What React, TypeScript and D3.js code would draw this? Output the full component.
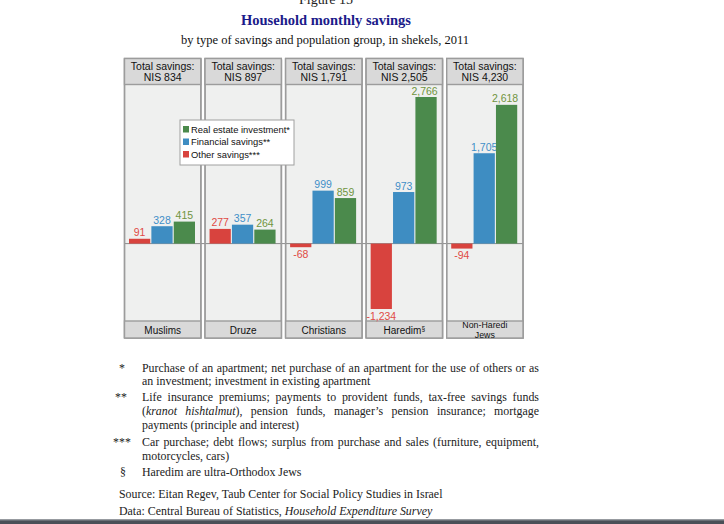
import { useEffect, useRef } from 'react';
import * as d3 from 'd3';

const groups = ['Muslims', 'Druze', 'Christians', 'Haredim', 'Non-Haredi Jews'];
const totals = ['834', '897', '1,791', '2,505', '4,230'];
const series = ['other', 'financial', 'realEstate'];
const otherSavings = [91, 277, -68, -1234, -94];
const financialSavings = [328, 357, 999, 973, 1705];
const realEstate = [415, 264, 859, 2766, 2618];

const legendItems = [
  { key: 'realEstate', label: 'Real estate investment*' },
  { key: 'financial', label: 'Financial savings**' },
  { key: 'other', label: 'Other savings***' },
];

const colors: Record<string, string> = {
  other: '#d8433e',
  financial: '#3e8dc2',
  realEstate: '#4b8a4c',
};
const labelColors: Record<string, string> = {
  other: '#e04a44',
  financial: '#3f8fc8',
  realEstate: '#6f9440',
};

const sans = '"Liberation Sans", Arial, sans-serif';
const serif = '"Liberation Serif", "Times New Roman", serif';

const W = 724;
const H = 524;
const top = 58.5;
const headerBottom = 84.5;
const footerTop = 321;
const bottom = 338;
const textRight = 539;

export default function App() {
  const ref = useRef<SVGSVGElement>(null);

  // justify the full-width footnote lines by spreading words
  useEffect(() => {
    d3.select(ref.current)
      .selectAll<SVGTextElement, unknown>('text.justify')
      .each(function () {
        const el = this;
        el.setAttribute('word-spacing', '0');
        const len = el.getComputedTextLength();
        const gaps = (el.textContent || '').split(' ').length - 1;
        const x0 = +(el.getAttribute('x') || 0);
        if (gaps > 0) el.setAttribute('word-spacing', String((textRight - x0 - len) / gaps));
      });
  }, []);

  const values: Record<string, number[]> = {
    other: otherSavings,
    financial: financialSavings,
    realEstate: realEstate,
  };

  const x = d3.scaleBand<string>().domain(groups).range([124.5, 523]).paddingInner(0.053);
  const inner = d3.scaleBand<string>().domain(series).range([4.5, 70.5]).paddingInner(0.05);
  const y = d3
    .scaleLinear()
    .domain([d3.min(otherSavings) as number, d3.max(realEstate) as number])
    .range([309, 97]);
  const fmt = d3
    .formatLocale({ decimal: '.', thousands: ',', grouping: [3], currency: ['', ''], minus: '-' })
    .format(',');
  const bw = x.bandwidth();

  return (
    <svg ref={ref} width={W} height={H} style={{ position: 'absolute', left: 0, top: 0, background: '#fff' }}>
      <text x={326} y={4} textAnchor="middle" fontFamily={serif} fontSize={14} fill="#222">
        Figure 15
      </text>
      <text x={326} y={25} textAnchor="middle" fontFamily={serif} fontSize={14.5} fontWeight="bold" fill="#1b1b8a">
        Household monthly savings
      </text>
      <text x={325} y={44} textAnchor="middle" fontFamily={serif} fontSize={12.5} fill="#111">
        by type of savings and population group, in shekels, 2011
      </text>

      {groups.map((g) => {
        const px = x(g) as number;
        return (
          <g key={g} transform={`translate(${px},0)`}>
            <rect x={1} y={top + 1} width={bw} height={bottom - top} fill="#c9c9c9" />
            <rect x={0} y={top} width={bw} height={bottom - top} fill="#eff0ef" stroke="#9c9c9c" strokeWidth={1.4} />
          </g>
        );
      })}

      <line x1={124.5} x2={523} y1={y(0)} y2={y(0)} stroke="#8a8a8a" strokeWidth={1} />

      {groups.map((g, i) => {
        const px = x(g) as number;
        return (
          <g key={g} transform={`translate(${px},0)`}>
            <line x1={0} x2={0} y1={top} y2={bottom} stroke="#9c9c9c" strokeWidth={1.4} />
            <line x1={bw} x2={bw} y1={top} y2={bottom} stroke="#9c9c9c" strokeWidth={1.4} />
            <rect x={0} y={top} width={bw} height={headerBottom - top} fill="#d9d9d9" stroke="#9c9c9c" strokeWidth={1.4} />
            <rect x={0} y={footerTop} width={bw} height={bottom - footerTop} fill="#d9d9d9" stroke="#9c9c9c" strokeWidth={1.4} />
            <text x={bw / 2} y={69.5} textAnchor="middle" fontFamily={sans} fontSize={10.5} fill="#111">
              Total savings:
            </text>
            <text x={bw / 2} y={81} textAnchor="middle" fontFamily={sans} fontSize={10.5} fill="#111">
              NIS {totals[i]}
            </text>
            {series.map((s) => {
              const v = values[s][i];
              const bx = inner(s) as number;
              const y0 = y(Math.max(0, v));
              const y1 = y(Math.min(0, v));
              const edge = s === 'realEstate' && v > 2000;
              return (
                <g key={s}>
                  <rect x={bx} y={y0} width={inner.bandwidth()} height={y1 - y0} fill={colors[s]} />
                  <text
                    x={bx + inner.bandwidth() / 2}
                    y={v >= 0 ? y0 - 2.5 : y1 + 10.5}
                    textAnchor={edge ? 'end' : 'middle'}
                    dx={edge ? inner.bandwidth() / 2 + 1 : 0}
                    fontFamily={sans}
                    fontSize={10.5}
                    fill={labelColors[s]}
                  >
                    {fmt(v)}
                  </text>
                </g>
              );
            })}
            {g === 'Non-Haredi Jews' ? (
              <>
                <text x={bw / 2} y={327.8} textAnchor="middle" fontFamily={sans} fontSize={8.8} fill="#111">
                  Non-Haredi
                </text>
                <text x={bw / 2} y={337.8} textAnchor="middle" fontFamily={sans} fontSize={8.8} fill="#111">
                  Jews
                </text>
              </>
            ) : (
              <text x={bw / 2} y={334} textAnchor="middle" fontFamily={sans} fontSize={10} fill="#111">
                {g}
                {g === 'Haredim' ? (
                  <tspan fontSize={6.5} dy={-3}>§</tspan>
                ) : null}
              </text>
            )}
          </g>
        );
      })}

      <g transform="translate(180,120)">
        <rect x={0} y={0} width={114} height={45} fill="#fff" stroke="#a0a0a0" strokeWidth={1} />
        {legendItems.map((d, i) => (
          <g key={d.key} transform={`translate(3,${9.5 + i * 12.5})`}>
            <rect x={0} y={-3.5} width={6} height={6.5} fill={colors[d.key]} />
            <text x={8} y={3.3} fontFamily={sans} fontSize={9.4} fill="#111">
              {d.label}
            </text>
          </g>
        ))}
      </g>

      <g fontFamily={serif} fontSize={11.9} fill="#222">
        <text x={119} y={372}>*</text>
        <text className="justify" x={142} y={372}>
          Purchase of an apartment; net purchase of an apartment for the use of others or as
        </text>
        <text x={142} y={385}>an investment; investment in existing apartment</text>
        <text x={115} y={401}>**</text>
        <text className="justify" x={142} y={401}>
          Life insurance premiums; payments to provident funds, tax-free savings funds
        </text>
        <text className="justify" x={142} y={415}>
          (<tspan fontStyle="italic">kranot hishtalmut</tspan>), pension funds, manager’s pension insurance; mortgage
        </text>
        <text x={142} y={429}>payments (principle and interest)</text>
        <text x={113} y={446}>***</text>
        <text className="justify" x={142} y={446}>
          Car purchase; debt flows; surplus from purchase and sales (furniture, equipment,
        </text>
        <text x={142} y={460}>motorcycles, cars)</text>
        <text x={120} y={476}>§</text>
        <text x={142} y={476}>Haredim are ultra-Orthodox Jews</text>
        <text x={119} y={498}>Source: Eitan Regev, Taub Center for Social Policy Studies in Israel</text>
        <text x={119} y={515}>
          Data: Central Bureau of Statistics, <tspan fontStyle="italic">Household Expenditure Survey</tspan>
        </text>
      </g>

      <rect x={0} y={519.5} width={W} height={4.5} fill="#4a4f57" />
      <rect x={0} y={519.5} width={W} height={1} fill="#8a8f96" />
    </svg>
  );
}
